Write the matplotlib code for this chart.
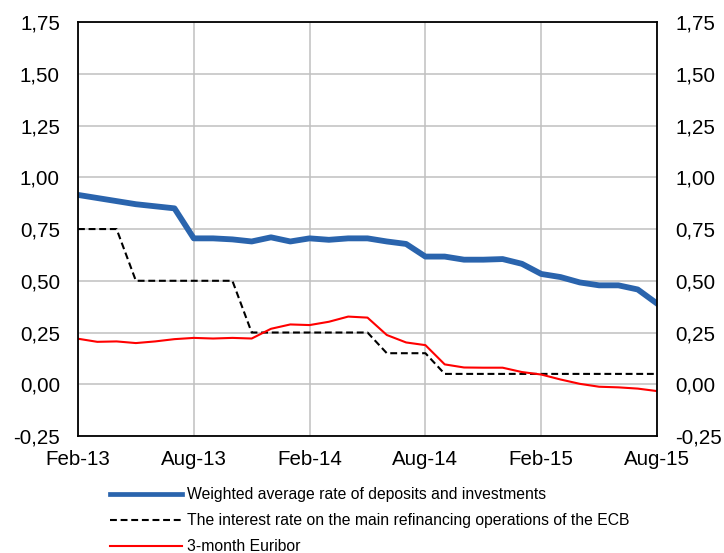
import numpy as np
import pandas as pd
import matplotlib
matplotlib.use('Agg')
import matplotlib.pyplot as plt
from matplotlib.ticker import FuncFormatter

plt.rcParams['font.family'] = ['Liberation Sans', 'DejaVu Sans']

# monthly data Feb-13 .. Aug-15
months = pd.date_range('2013-02-01', '2015-08-01', freq='MS')

deposits = [0.915, 0.90, 0.885, 0.87, 0.86, 0.85, 0.705, 0.705, 0.70, 0.69,
            0.71, 0.69, 0.705, 0.698, 0.705, 0.705, 0.69, 0.678, 0.617, 0.617,
            0.602, 0.602, 0.605, 0.582, 0.533, 0.518, 0.492, 0.478, 0.478,
            0.458, 0.39]
ecb = [0.75, 0.75, 0.75, 0.50, 0.50, 0.50, 0.50, 0.50, 0.50, 0.25,
       0.25, 0.25, 0.25, 0.25, 0.25, 0.25, 0.15, 0.15, 0.15, 0.05,
       0.05, 0.05, 0.05, 0.05, 0.05, 0.05, 0.05, 0.05, 0.05, 0.05, 0.05]
euribor = [0.22, 0.205, 0.207, 0.199, 0.207, 0.218, 0.224, 0.221, 0.224, 0.221,
           0.268, 0.289, 0.286, 0.302, 0.327, 0.322, 0.238, 0.202, 0.189, 0.096,
           0.081, 0.080, 0.080, 0.059, 0.047, 0.023, 0.002, -0.012, -0.015,
           -0.021, -0.033]

labels = ['Weighted average rate of deposits and investments',
          'The interest rate on the main refinancing operations of the ECB',
          '3-month Euribor']

tick_months = ['Feb-13', 'Aug-13', 'Feb-14', 'Aug-14', 'Feb-15', 'Aug-15']
y_ticks = [-0.25, 0.0, 0.25, 0.5, 0.75, 1.0, 1.25, 1.5, 1.75]

x = np.arange(len(months))

fig = plt.figure(figsize=(7.24, 5.53), dpi=100)
ax = fig.add_axes([0.1077, 0.2116, 0.7998, 0.7484])

ax.plot(x, deposits, color='#2A64AD', lw=4.2, label=labels[0], zorder=3,
        solid_joinstyle='round')
ax.plot(x, ecb, color='black', lw=1.5, ls=(0, (3.3, 1.8)), label=labels[1], zorder=3)
ax.plot(x, euribor, color='#FF0000', lw=1.5, label=labels[2], zorder=3)

ax.set_xlim(0, len(months) - 1)
ax.set_ylim(-0.25, 1.75)
ax.set_xticks(x[::6])
ax.set_xticklabels(tick_months)
ax.set_yticks(y_ticks)
fmt = FuncFormatter(lambda v, p: ('%.2f' % v).replace('.', ','))
ax.yaxis.set_major_formatter(fmt)
ax.grid(True, color='#C0C0C0', lw=1.1)
ax.set_axisbelow(True)

for s in ax.spines.values():
    s.set_color('black')
    s.set_linewidth(1.3)
    s.set_zorder(4)

ax.tick_params(axis='both', length=0, labelsize=14.8)
ax.tick_params(axis='y', pad=13, labelright=True)
ax.tick_params(axis='x', pad=10)

leg = fig.legend(loc='upper left', bbox_to_anchor=(0.152, 0.1193), frameon=False,
                 fontsize=11.3, handlelength=4.6, handletextpad=0.3,
                 labelspacing=0.7, borderaxespad=0, borderpad=0)
leg.get_lines()[0].set_linewidth(3.4)

fig.savefig('out.png', dpi=100)
